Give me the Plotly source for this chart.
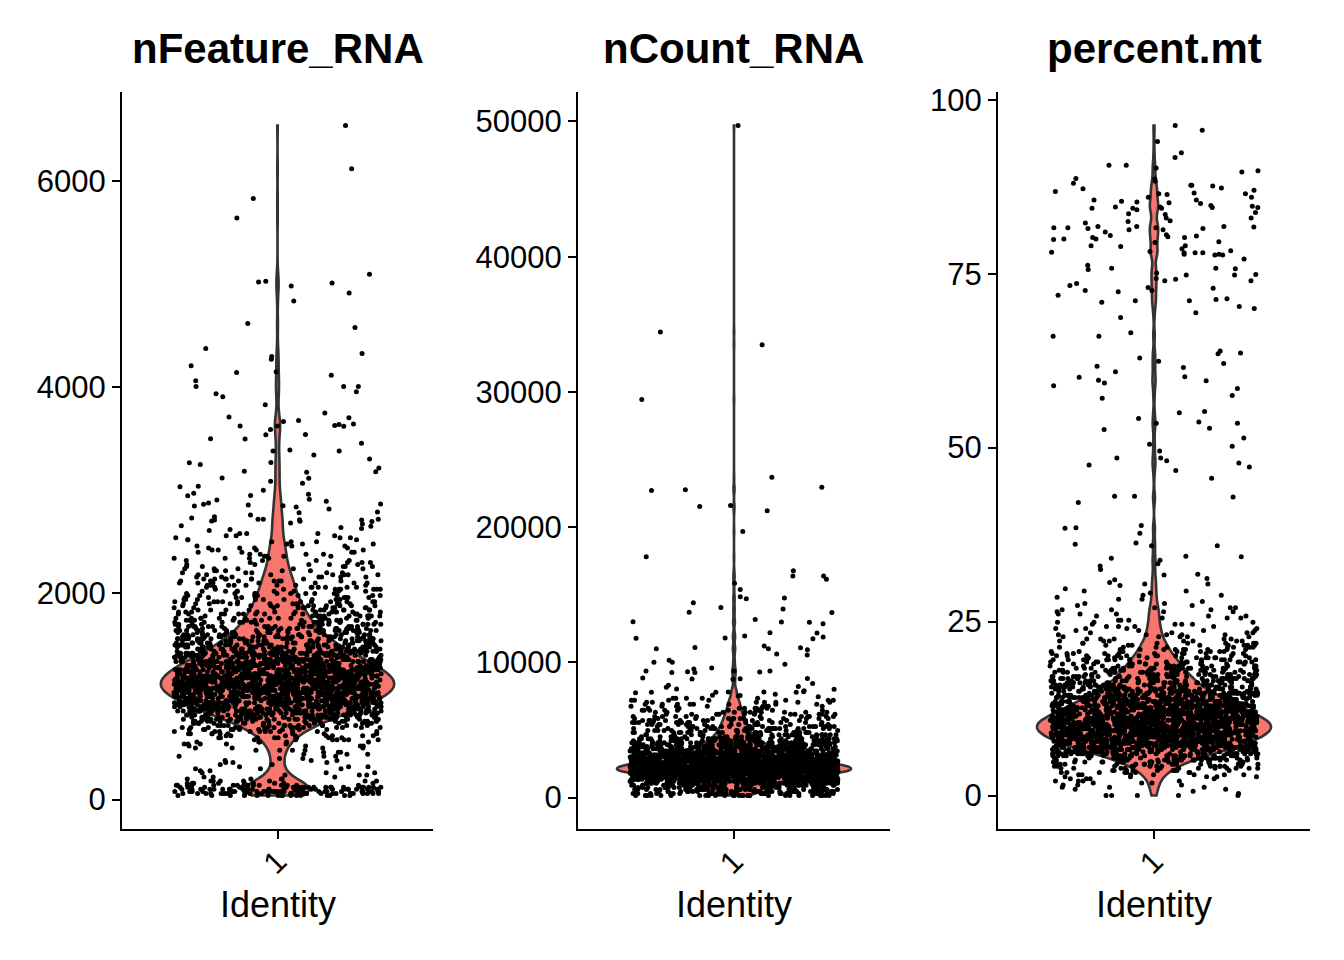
import numpy as np
import plotly.graph_objects as go

# ---------------- data ----------------
TITLES = ["nFeature_RNA", "nCount_RNA", "percent.mt"]
X_TITLE = "Identity"
IDENT = ["1"]

# nFeature_RNA: dense part as (level, number of cells) + individually read cells
NF_LEVELS = [40, 60, 80, 100, 120, 140, 160, 180, 200, 220, 240, 260, 280, 300, 320, 340, 360, 380, 400, 420,
             440, 460, 480, 500, 520, 540, 560, 580, 600, 620, 640, 660, 680, 700, 720, 740, 760, 780, 800, 820,
             840, 860, 880, 900, 920, 940, 960, 980, 1000, 1020, 1040, 1060, 1080, 1100, 1120, 1140, 1160, 1180, 1200, 1220,
             1240, 1260, 1280, 1300, 1320, 1340, 1360, 1380, 1400, 1420, 1440, 1460, 1480, 1500, 1520, 1540, 1560, 1580, 1600, 1620,
             1640, 1660, 1680, 1700, 1720, 1740, 1760, 1780, 1800, 1820, 1840, 1860, 1880, 1900, 1920, 1940, 1960, 1980, 2000, 2020,
             2040, 2060, 2080, 2100, 2120, 2140, 2160, 2180, 2200, 2220, 2240, 2260, 2280, 2300, 2320, 2340, 2360, 2380, 2400, 2420,
             2440, 2460, 2480, 2500, 2520, 2540, 2560, 2580]
NF_COUNTS = [16, 27, 32, 30, 22, 15, 9, 7, 4, 3,
             3, 3, 2, 3, 3, 2, 3, 3, 2, 3,
             3, 3, 4, 4, 4, 5, 5, 7, 8, 8,
             9, 11, 12, 15, 16, 19, 22, 24, 26, 28,
             31, 34, 36, 38, 41, 43, 45, 47, 49, 50,
             51, 53, 54, 54, 54, 54, 54, 53, 51, 50,
             49, 47, 46, 45, 42, 41, 39, 36, 35, 34,
             31, 30, 28, 27, 26, 24, 23, 22, 20, 19,
             19, 18, 16, 16, 15, 15, 14, 14, 14, 12,
             12, 12, 11, 11, 11, 9, 9, 9, 9, 8,
             8, 8, 8, 7, 7, 7, 7, 7, 5, 5,
             5, 5, 5, 4, 4, 4, 4, 4, 4, 4,
             4, 3, 3, 3, 3, 3, 3, 3]
NF_SINGLES = [6537, 6118, 5829, 5640, 5095, 4981, 5020, 5027, 5010, 4913, 4835, 4618, 4579, 4374, 4296, 4325,
              4270, 4208, 4150, 4143, 4114, 4062, 4007, 4007, 4007, 3955, 3936, 3906, 3828, 3750, 3702, 3643,
              3624, 3666, 3621, 3637, 3627, 3676, 3711, 3624, 3588, 3539, 3541, 3497, 3500, 3455, 3390, 3380,
              3341, 3267, 3302, 3380, 3270, 3250, 3215, 3185, 3175, 3180, 3117, 3120, 3088, 3040, 3033, 3069,
              3000, 2961, 2971, 2947, 2950, 2912, 2906, 2893, 2864, 2818, 2838, 2867, 2877, 2857, 2850, 2848,
              2783, 2744, 2714, 2672, 2650, 2718, 2720, 2698, 2682, 2701, 2655, 2718, 2711, 2730, 2712, 2640,
              2620, 2610, 2700, 2760, 2790, 2630]

# nCount_RNA
NC_LEVELS = [150, 300, 450, 600, 750, 900, 1050, 1200, 1350, 1500, 1650, 1800, 1950, 2100, 2250, 2400, 2550,
             2700, 2850, 3000, 3150, 3300, 3450, 3600, 3750, 3900, 4050, 4200, 4350, 4500, 4650, 4800, 4950,
             5100, 5250, 5400, 5550, 5700, 5850, 6000, 6150, 6300, 6450, 6600, 6750, 6900, 7050, 7200, 7350]
NC_COUNTS = [30, 32, 34, 35, 36, 42, 49, 59, 73, 92,
             113, 135, 154, 162, 154, 139, 124, 111, 99, 88,
             78, 70, 62, 54, 47, 42, 36, 32, 28, 26,
             23, 22, 20, 19, 18, 16, 15, 14, 14, 12,
             11, 11, 9, 9, 8, 8, 7, 7, 5]
NC_SINGLES = [49700, 34420, 33480, 29430, 22765, 21605, 22715, 21530, 22940, 23680, 21210, 19680, 17800,
              16390, 16770, 16390, 15850, 16150, 14840, 15380, 14700, 14750, 14400, 14050, 13680, 13950,
              12960, 13000, 12980, 13700, 13160, 12860, 11950, 11090, 11750, 11070, 11000, 11800, 10920,
              11870, 11210, 11780, 12190, 12160, 11000, 10620, 10540, 9850, 10000, 10150, 10000, 9240, 9580,
              8790, 9240, 9360, 9360, 8770, 9290, 9310, 9360, 9500, 8840, 8810, 8220, 8740, 8300, 7780, 7780,
              7750, 7560, 7780, 7830, 8000, 7800, 7450, 8440, 8020, 7630, 7500, 8150, 7900, 7800, 7550]

# percent.mt
PM_LEVELS = [0, 0.3, 0.6, 0.9, 1.2, 1.5, 1.8, 2.1, 2.4, 2.7, 3.0, 3.3, 3.6, 3.9, 4.2, 4.5, 4.8, 5.1, 5.4, 5.7,
             6.0, 6.3, 6.6, 6.9, 7.2, 7.5, 7.8, 8.1, 8.4, 8.7, 9.0, 9.3, 9.6, 9.9, 10.2, 10.5, 10.8, 11.1, 11.4,
             11.7, 12.0, 12.3, 12.6, 12.9, 13.2, 13.5, 13.8, 14.1, 14.4, 14.7, 15.0, 15.3, 15.6, 15.9, 16.2,
             16.5, 16.8, 17.1, 17.4, 17.7, 18.0, 18.3, 18.6, 18.9, 19.2, 19.5, 19.8, 20.1, 20.4, 20.7, 21.0,
             21.3, 21.6, 21.9, 22.2, 22.5, 22.8, 23.1, 23.4, 23.7, 24.0, 24.3, 24.6, 24.9, 25.2, 25.5, 25.8,
             26.1, 26.4, 26.7, 27.0, 27.3, 27.6, 27.9, 28.2, 28.5, 28.8, 29.1, 29.4, 29.7]
PM_COUNTS = [5,
             1, 1, 2, 3, 3, 3, 4, 4, 5, 7,
             8, 9, 12, 14, 16, 19, 22, 26, 30, 35,
             39, 45, 49, 51, 55, 58, 61, 63, 66, 68,
             69, 70, 70, 70, 69, 68, 65, 62, 59, 57,
             54, 51, 50, 47, 45, 42, 39, 38, 35, 32,
             31, 28, 27, 26, 24, 23, 22, 20, 19, 19,
             18, 16, 15, 15, 14, 12, 12, 11, 9, 9,
             8, 8, 7, 7, 5, 5, 5, 4, 4, 4,
             4, 4, 3, 3, 3, 3, 3, 3, 3, 3,
             2, 2, 1, 2, 1, 2, 1, 2, 1]
PM_SINGLES = [90.6, 90.6, 87.3, 86.5, 85.2, 85.6, 87.6, 83.5, 83.0, 81.8, 81.7, 81.6, 80.2, 80.0, 79.5, 79.9,
              80.4, 80.0, 81.0, 86.0, 83.6, 82.5, 80.5, 78.3, 78.0, 78.0, 79.0, 78.0, 77.1, 75.8, 74.3, 74.8,
              74.9, 73.6, 72.6, 71.4, 72.4, 70.9, 74.2, 71.1, 70.0, 69.4, 71.3, 68.7, 66.0, 66.5, 66.0, 63.9,
              63.5, 61.7, 59.7, 59.3, 59.6, 60.9, 60.2, 61.5, 58.9, 58.5, 55.2, 55.0, 54.2, 53.5, 53.5, 51.4,
              57.5, 53.7, 52.6, 50.2, 50.5, 52.8, 57.1, 63.6, 62.1, 60.1, 62.9, 62.4,
              96.3, 95.6, 94.0, 91.7, 92.4, 89.6, 88.6, 90.2, 89.8, 88.0, 88.7, 88.3, 87.2, 86.4, 87.7, 87.7,
              87.0, 86.8, 86.6, 86.5, 85.3, 85.4, 84.8, 86.0, 85.6, 85.1, 84.5, 84.5, 84.4, 84.7, 83.8, 84.6,
              84.2, 84.6, 84.4, 84.4, 83.0, 82.6, 81.5, 82.3, 81.6, 81.8, 81.3, 81.3, 80.6, 81.8, 81.6, 80.2,
              80.3, 79.6, 81.5, 77.7, 76.2, 74.0, 79.0, 77.8, 78.1, 78.2, 77.7, 77.8, 78.6, 78.9, 75.1, 74.0,
              74.8, 75.6, 75.8, 72.9, 73.0, 71.9, 71.1, 70.3, 75.7, 73.3, 72.6,
              47.8, 45.6, 42.1, 38.8, 36.3, 35.9, 34.4, 33.3, 36.1, 34.3, 33.8, 47.5, 48.1, 48.5, 43.0, 48.5,
              47.2, 46.7, 49.5, 42.9, 43.0, 38.5, 37.7, 38.4, 35.9, 34.1, 31.7, 31.2, 30.6, 30.4, 31.8, 30.4,
              32.5, 31.0, 30.2, 33.0]

Y_TICKS = [[0, 2000, 4000, 6000],
           [0, 10000, 20000, 30000, 40000, 50000],
           [0, 25, 50, 75, 100]]
Y_TICKTEXT = [["0", "2000", "4000", "6000"],
              ["0", "10000", "20000", "30000", "40000", "50000"],
              ["0", "25", "50", "75", "100"]]

# ---------------- styling ----------------
FONT = "Liberation Sans, Arial, Helvetica, sans-serif"
FILL = "#F8766D"
OUTLINE = "#333333"
W, H = 1344, 960
PANEL_PX = [(122, 433), (578, 890), (998, 1310)]
TOP_PX, BOTTOM_PX = 92, 829
BANDWIDTHS = [85, 250, 0.8]


def cells(levels, counts, singles):
    return np.concatenate([np.repeat(np.asarray(levels, float), np.asarray(counts)),
                           np.asarray(singles, float)])


def jitter(n, seed):
    # deterministic horizontal jitter in [-0.5, 0.5) (like geom_jitter's width)
    i = np.arange(n, dtype=float)
    h = np.sin(i * 12.9898 + seed * 78.233) * 43758.5453
    return (h - np.floor(h)) - 0.5


series = [cells(NF_LEVELS, NF_COUNTS, NF_SINGLES),
          cells(NC_LEVELS, NC_COUNTS, NC_SINGLES),
          cells(PM_LEVELS, PM_COUNTS, PM_SINGLES)]

fig = go.Figure()
layout = dict(
    template="none",
    width=W, height=H, autosize=False,
    margin=dict(l=0, r=0, t=0, b=0, pad=0),
    paper_bgcolor="white", plot_bgcolor="white",
    showlegend=False,
    font=dict(family=FONT, color="black"),
    annotations=[],
)

ydom = [1 - BOTTOM_PX / H, 1 - TOP_PX / H]
for k, vals in enumerate(series):
    xa = "x" if k == 0 else f"x{k + 1}"
    ya = "y" if k == 0 else f"y{k + 1}"
    fig.add_trace(go.Violin(
        y=vals, x0=1, width=0.9, spanmode="hard", scalemode="width",
        bandwidth=BANDWIDTHS[k], points=False, box_visible=False, meanline_visible=False,
        fillcolor=FILL, line=dict(color=OUTLINE, width=2.6), opacity=1,
        hoverinfo="skip", xaxis=xa, yaxis=ya, showlegend=False))
    fig.add_trace(go.Scatter(
        x=1 + 0.8 * jitter(len(vals), k + 1), y=vals, mode="markers",
        marker=dict(size=5, color="black", line=dict(width=0)),
        hoverinfo="skip", xaxis=xa, yaxis=ya, showlegend=False))

    lo, hi = float(vals.min()), float(vals.max())
    pad = 0.05 * (hi - lo)
    x0p, x1p = PANEL_PX[k]
    xdom = [x0p / W, x1p / W]
    axkey = "xaxis" if k == 0 else f"xaxis{k + 1}"
    aykey = "yaxis" if k == 0 else f"yaxis{k + 1}"
    layout[axkey] = dict(
        domain=xdom, anchor=ya, type="linear", range=[0.4, 1.6], automargin=False,
        tickmode="array", tickvals=[1], ticktext=IDENT, tickangle=-45,
        ticklabelstandoff=-8,
        ticks="outside", ticklen=8, tickwidth=2, tickcolor="black",
        showline=True, linecolor="black", linewidth=2,
        showgrid=False, zeroline=False, fixedrange=True,
        tickfont=dict(size=31, family=FONT, color="black"))
    layout[aykey] = dict(
        domain=ydom, anchor=xa, type="linear", range=[lo - pad, hi + pad], automargin=False,
        tickmode="array", tickvals=Y_TICKS[k], ticktext=Y_TICKTEXT[k],
        ticks="outside", ticklen=8, tickwidth=2, tickcolor="black",
        showline=True, linecolor="black", linewidth=2,
        showgrid=False, zeroline=False, fixedrange=True,
        tickfont=dict(size=31, family=FONT, color="black"))
    cx = (x0p + x1p) / 2 / W
    layout["annotations"].append(dict(
        text=f"<b>{TITLES[k]}</b>", x=cx, y=1 - 48 / H, xref="paper", yref="paper",
        xanchor="center", yanchor="middle", showarrow=False,
        font=dict(size=42, family=FONT, color="black")))
    layout["annotations"].append(dict(
        text=X_TITLE, x=cx, y=1 - 904 / H, xref="paper", yref="paper",
        xanchor="center", yanchor="middle", showarrow=False,
        font=dict(size=36, family=FONT, color="black")))

fig.update_layout(**layout)
fig.write_html("out.html", config={"displayModeBar": False},
               post_script="document.body.style.margin='0';document.body.style.overflow='hidden';")
